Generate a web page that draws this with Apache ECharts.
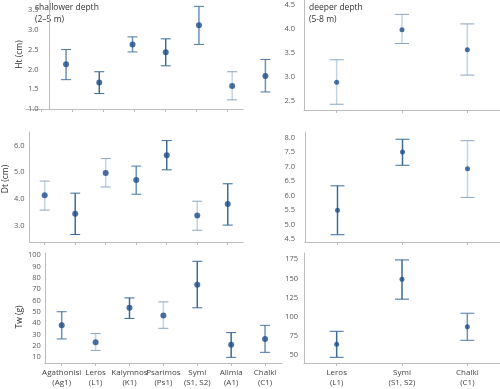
<!DOCTYPE html>
<html><head><meta charset="utf-8">
<script src="https://cdn.jsdelivr.net/npm/echarts@6/dist/echarts.min.js"></script>
<style>html,body{margin:0;padding:0;background:#fff}#c{width:500px;height:389px}</style>
</head><body><div id="c"></div>
<script>
// ---------- data ----------
const shallowSites = ['Agathonisi\n(Ag1)', 'Leros\n(L1)', 'Kalymnos\n(K1)', 'Psarimos\n(Ps1)', 'Symi\n(S1, S2)', 'Alimia\n(A1)', 'Chalki\n(C1)'];
const deepSites = ['Leros\n(L1)', 'Symi\n(S1, S2)', 'Chalki\n(C1)'];

const htShallowMean = [2.13, 1.67, 2.63, 2.43, 3.11, 1.58, 1.83];
const htShallowLow  = [1.74, 1.39, 2.44, 2.09, 2.63, 1.23, 1.43];
const htShallowHigh = [2.50, 1.94, 2.82, 2.77, 3.59, 1.94, 2.25];
const htDeepMean = [2.88, 3.98, 3.56];
const htDeepLow  = [2.42, 3.69, 3.03];
const htDeepHigh = [3.35, 4.30, 4.10];

const dtShallowMean = [4.14, 3.45, 4.97, 4.71, 5.63, 3.39, 3.82];
const dtShallowLow  = [3.59, 2.68, 4.45, 4.18, 5.09, 2.84, 3.03];
const dtShallowHigh = [4.67, 4.22, 5.51, 5.23, 6.18, 3.92, 4.57];
const dtDeepMean = [5.50, 7.51, 6.93];
const dtDeepLow  = [4.65, 7.05, 5.94];
const dtDeepHigh = [6.34, 7.95, 7.90];

const twShallowMean = [38.2, 23.4, 53.7, 46.9, 74.0, 21.0, 26.2];
const twShallowLow  = [26.2, 16.1, 44.3, 35.6, 53.7, 10.0, 14.4];
const twShallowHigh = [50.2, 31.0, 62.4, 58.9, 94.7, 31.8, 38.2];
const twDeepMean = [64.3, 149.0, 87.2];
const twDeepLow  = [47.4, 123.0, 69.5];
const twDeepHigh = [81.2, 174.0, 104.7];

// tick label steps
const htLabelStep = 0.5, dtShallowLabelStep = 1.0, dtDeepLabelStep = 0.5;
const twShallowLabelStep = 10, twDeepLabelStep = 25;

// ---------- styles (per-bar tone) ----------
const TONES = {
  d: {stem: '#3b6b99', cap: '#3b6b99'},
  m: {stem: '#6d92b8', cap: '#4f7aa5'},
  l: {stem: '#c3d4e5', cap: '#8ea5be'}
};
const htShallowTone = ['m','d','m','d','m','l','m'];
const htDeepTone = ['l','l','l'];
const dtShallowTone = ['l','d','l','m','d','l','d'];
const dtDeepTone = ['d','d','l'];
const twShallowTone = ['m','l','d','l','d','d','m'];
const twDeepTone = ['d','d','m'];

const FONT = 'Open Sans';
const TXT = '#5a5a5a';
const AX = '#bdbdbd';

function errRender(tones, capHalf, stemW) {
  return function (params, api) {
    const x = api.value(0), lo = api.value(1), hi = api.value(2);
    const a = api.coord([x, lo]), b = api.coord([x, hi]);
    const t = TONES[tones[params.dataIndex]];
    return {type: 'group', children: [
      {type: 'line', shape: {x1: a[0], y1: a[1], x2: b[0], y2: b[1]}, style: {stroke: t.stem, lineWidth: stemW}},
      {type: 'line', shape: {x1: b[0] - capHalf, y1: b[1], x2: b[0] + capHalf, y2: b[1]}, style: {stroke: t.cap, lineWidth: 1}},
      {type: 'line', shape: {x1: a[0] - capHalf, y1: a[1], x2: a[0] + capHalf, y2: a[1]}, style: {stroke: t.cap, lineWidth: 1}}
    ]};
  };
}

function fmt(step, dec) {
  return function (v) {
    const r = v / step;
    return Math.abs(r - Math.round(r)) < 1e-6 ? v.toFixed(dec) : '';
  };
}

const grids = [
  {left: 31, top: 0, width: 251, height: 109},   // 0 top-left data
  {left: 304, top: 0, width: 196, height: 110},  // 1 top-right
  {left: 26, top: 132, width: 217, height: 110}, // 2 mid-left
  {left: 305, top: 132, width: 195, height: 110},// 3 mid-right
  {left: 30, top: 253, width: 252, height: 110}, // 4 bottom-left
  {left: 304, top: 253, width: 196, height: 110},// 5 bottom-right
  {left: 26, top: 0, width: 217, height: 109}    // 6 top-left tick axis
];

function xAx(gi, cats, showLabels, show) {
  return {
    type: 'category', gridIndex: gi, data: cats, boundaryGap: true, show: show !== false,
    axisLine: {lineStyle: {color: AX, width: 1}},
    axisTick: {show: true, alignWithLabel: true, length: 3, lineStyle: {color: AX}},
    axisLabel: {show: showLabels, fontFamily: FONT, fontSize: 8, color: '#444', lineHeight: 10, margin: 5, interval: 0},
    splitLine: {show: false}
  };
}
function yAx(gi, min, max, interval, labelStep, dec, margin, name, nameGap, namePad) {
  return {
    type: 'value', gridIndex: gi, min: min, max: max, interval: interval,
    name: name || '', nameLocation: 'middle', nameGap: nameGap || 16,
    nameTextStyle: {fontFamily: FONT, fontSize: 8.5, color: '#333', padding: namePad || 0},
    axisLine: {show: true, lineStyle: {color: AX, width: 1}},
    axisTick: {show: false},
    axisLabel: {fontFamily: FONT, fontSize: 7.5, color: TXT, margin: margin, formatter: fmt(labelStep, dec)},
    splitLine: {show: false}
  };
}

const xAxes = [
  xAx(0, shallowSites, false, false),
  xAx(1, deepSites, false),
  xAx(2, shallowSites, false),
  xAx(3, deepSites, false),
  xAx(4, shallowSites, true),
  xAx(5, deepSites, true),
  xAx(6, shallowSites, false)
];
const yAxes = [
  yAx(0, 1.0, 3.75, 0.5, htLabelStep, 1, 11, 'Ht (cm)', 15),
  yAx(1, 2.3, 4.6, 0.1, htLabelStep, 1, 9),
  yAx(2, 2.4, 6.5, 0.1, dtShallowLabelStep, 1, 5, 'Dt (cm)', 16, [0, 0, 0, 16]),
  yAx(3, 4.4, 8.2, 0.1, dtDeepLabelStep, 1, 10),
  yAx(4, 5, 102, 5, twShallowLabelStep, 0, 4, 'Tw (g)', 15, [0, 18, 0, 0]),
  yAx(5, 40, 183, 5, twDeepLabelStep, 0, 6),
  {type: 'value', gridIndex: 6, show: false, min: 0, max: 1}
];

function errData(lo, hi) { return lo.map((v, i) => [i, v, hi[i]]); }
function ptData(m) { return m.map((v, i) => [i, v]); }

const panels = [
  [htShallowMean, htShallowLow, htShallowHigh, htShallowTone, 5, true],
  [htDeepMean, htDeepLow, htDeepHigh, htDeepTone, 7, false],
  [dtShallowMean, dtShallowLow, dtShallowHigh, dtShallowTone, 5, true],
  [dtDeepMean, dtDeepLow, dtDeepHigh, dtDeepTone, 7, false],
  [twShallowMean, twShallowLow, twShallowHigh, twShallowTone, 5, true],
  [twDeepMean, twDeepLow, twDeepHigh, twDeepTone, 7, false]
];
const series = [];
panels.forEach((p, i) => {
  series.push({
    type: 'custom', xAxisIndex: i, yAxisIndex: i, renderItem: errRender(p[3], p[4], 1.5),
    data: errData(p[1], p[2]), silent: true, z: 2
  });
  series.push({
    type: 'scatter', xAxisIndex: i, yAxisIndex: i, data: ptData(p[0]),
    symbol: 'circle', symbolSize: p[5] ? 6 : 5, itemStyle: {color: '#1d4c8a'}, silent: true, z: 3
  });
});

const chart = echarts.init(document.getElementById('c'), null, {renderer: 'canvas'});
chart.setOption({
  animation: false,
  backgroundColor: '#fff',
  grid: grids,
  xAxis: xAxes,
  yAxis: yAxes,
  series: series,
  graphic: [
    {type: 'text', left: 35, top: 2, style: {text: 'shallower depth\n(2–5 m)', font: '8.5px "Open Sans"', fill: '#333', lineHeight: 12}},
    {type: 'text', left: 309, top: 2, style: {text: 'deeper depth\n(5-8 m)', font: '8.5px "Open Sans"', fill: '#333', lineHeight: 12}}
  ]
});
</script></body></html>
